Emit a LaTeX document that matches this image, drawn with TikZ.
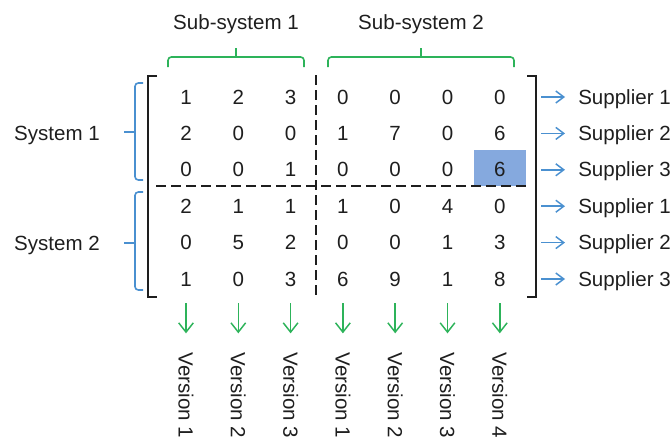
\documentclass[tikz,border=0pt]{standalone}
\usepackage{fontspec}
\setmainfont{Liberation Sans}
\usetikzlibrary{arrows.meta}
\definecolor{MatInk}{HTML}{1E1E1E}
\definecolor{MatBlue}{HTML}{4A90D0}
\definecolor{MatGreen}{HTML}{2DB35A}
\definecolor{MatHigh}{HTML}{85A9DE}

\begin{document}
\begin{tikzpicture}[x=0.75pt,y=-0.75pt,
      every node/.style={font=\fontsize{15.4}{18}\selectfont,text=MatInk},
      entry/.style={inner sep=0pt},
      tag/.style={inner sep=0pt},
      bracket/.style={draw=MatInk,line width=1.1pt},
      partline/.style={draw=MatInk,line width=2pt,dash pattern=on 7.5pt off 3.75pt},
      subbrace/.style={draw=MatGreen,line width=1.2pt,rounded corners=2.5pt},
      sysbrace/.style={draw=MatBlue,line width=1.2pt,rounded corners=2.5pt},
      suparrow/.style={-{Straight Barb[length=6pt,width=9pt]},draw=MatBlue,line width=1.1pt},
      verarrow/.style={-{Straight Barb[length=7pt,width=11pt]},draw=MatGreen,line width=1.1pt}
    ]
    \useasboundingbox (0,0) rectangle (670,446);

    % highlighted cell
    \fill[MatHigh] (474,150) rectangle (526,186);

    % matrix entries
    \foreach \vals [count=\r] in {{1,2,3,0,0,0,0},{2,0,0,1,7,0,6},{0,0,1,0,0,0,6},
        {2,1,1,1,0,4,0},{0,5,2,0,0,1,3},{1,0,3,6,9,1,8}}
      \foreach \v [count=\c] in \vals
        \node[entry] (m-\r-\c) at ({186+52.3*(\c-1)},{97+36.4*(\r-1)}) {\v};

    % brackets and partition
    \draw[bracket] (157,76) -- (148,76) -- (148,297) -- (157,297);
    \draw[bracket] (527,76) -- (536,76) -- (536,297) -- (527,297);
    \draw[partline] (316,75) -- (316,299);
    \draw[partline] (156,186) -- (527,186);

    % sub-systems
    \draw[subbrace] (168,67) -- (168,57) -- (304,57) -- (304,67);
    \draw[subbrace] (236,57) -- (236,48);
    \draw[subbrace] (328,67) -- (328,57) -- (514,57) -- (514,67);
    \draw[subbrace] (421,57) -- (421,48);
    \node[tag,anchor=base] (sub-1) at (236,29) {Sub-system 1};
    \node[tag,anchor=base] (sub-2) at (421,29) {Sub-system 2};

    % systems
    \draw[sysbrace] (143,83) -- (135,83) -- (135,180) -- (143,180);
    \draw[sysbrace] (135,132) -- (124,132);
    \draw[sysbrace] (143,192) -- (135,192) -- (135,290) -- (143,290);
    \draw[sysbrace] (135,243) -- (124,243);
    \node[tag,anchor=base] (sys-1) at (57,140) {System 1};
    \node[tag,anchor=base] (sys-2) at (57,250) {System 2};

    % suppliers
    \foreach \r/\s in {1/1,2/2,3/3,4/1,5/2,6/3} {
      \coordinate (sa-\r) at (541,{97+36.4*(\r-1)});
      \node[tag,anchor=base west] (sup-\r) at (578,{104+36.4*(\r-1)}) {Supplier \s};
      \draw[suparrow,shorten >=9.75pt] (sa-\r) -- (sa-\r -| sup-\r.west);
    }

    % versions
    \foreach \c/\k in {1/1,2/2,3/3,4/1,5/2,6/3,7/4} {
      \coordinate (va-\c) at ({186+52.3*(\c-1)},303);
      \node[rotate=-90,anchor=west] (ver-\c) at ({186+52.3*(\c-1)},348) {Version \k};
      \draw[verarrow,shorten >=11pt] (va-\c) -- (ver-\c.west);
    }
  \end{tikzpicture}
\end{document}
